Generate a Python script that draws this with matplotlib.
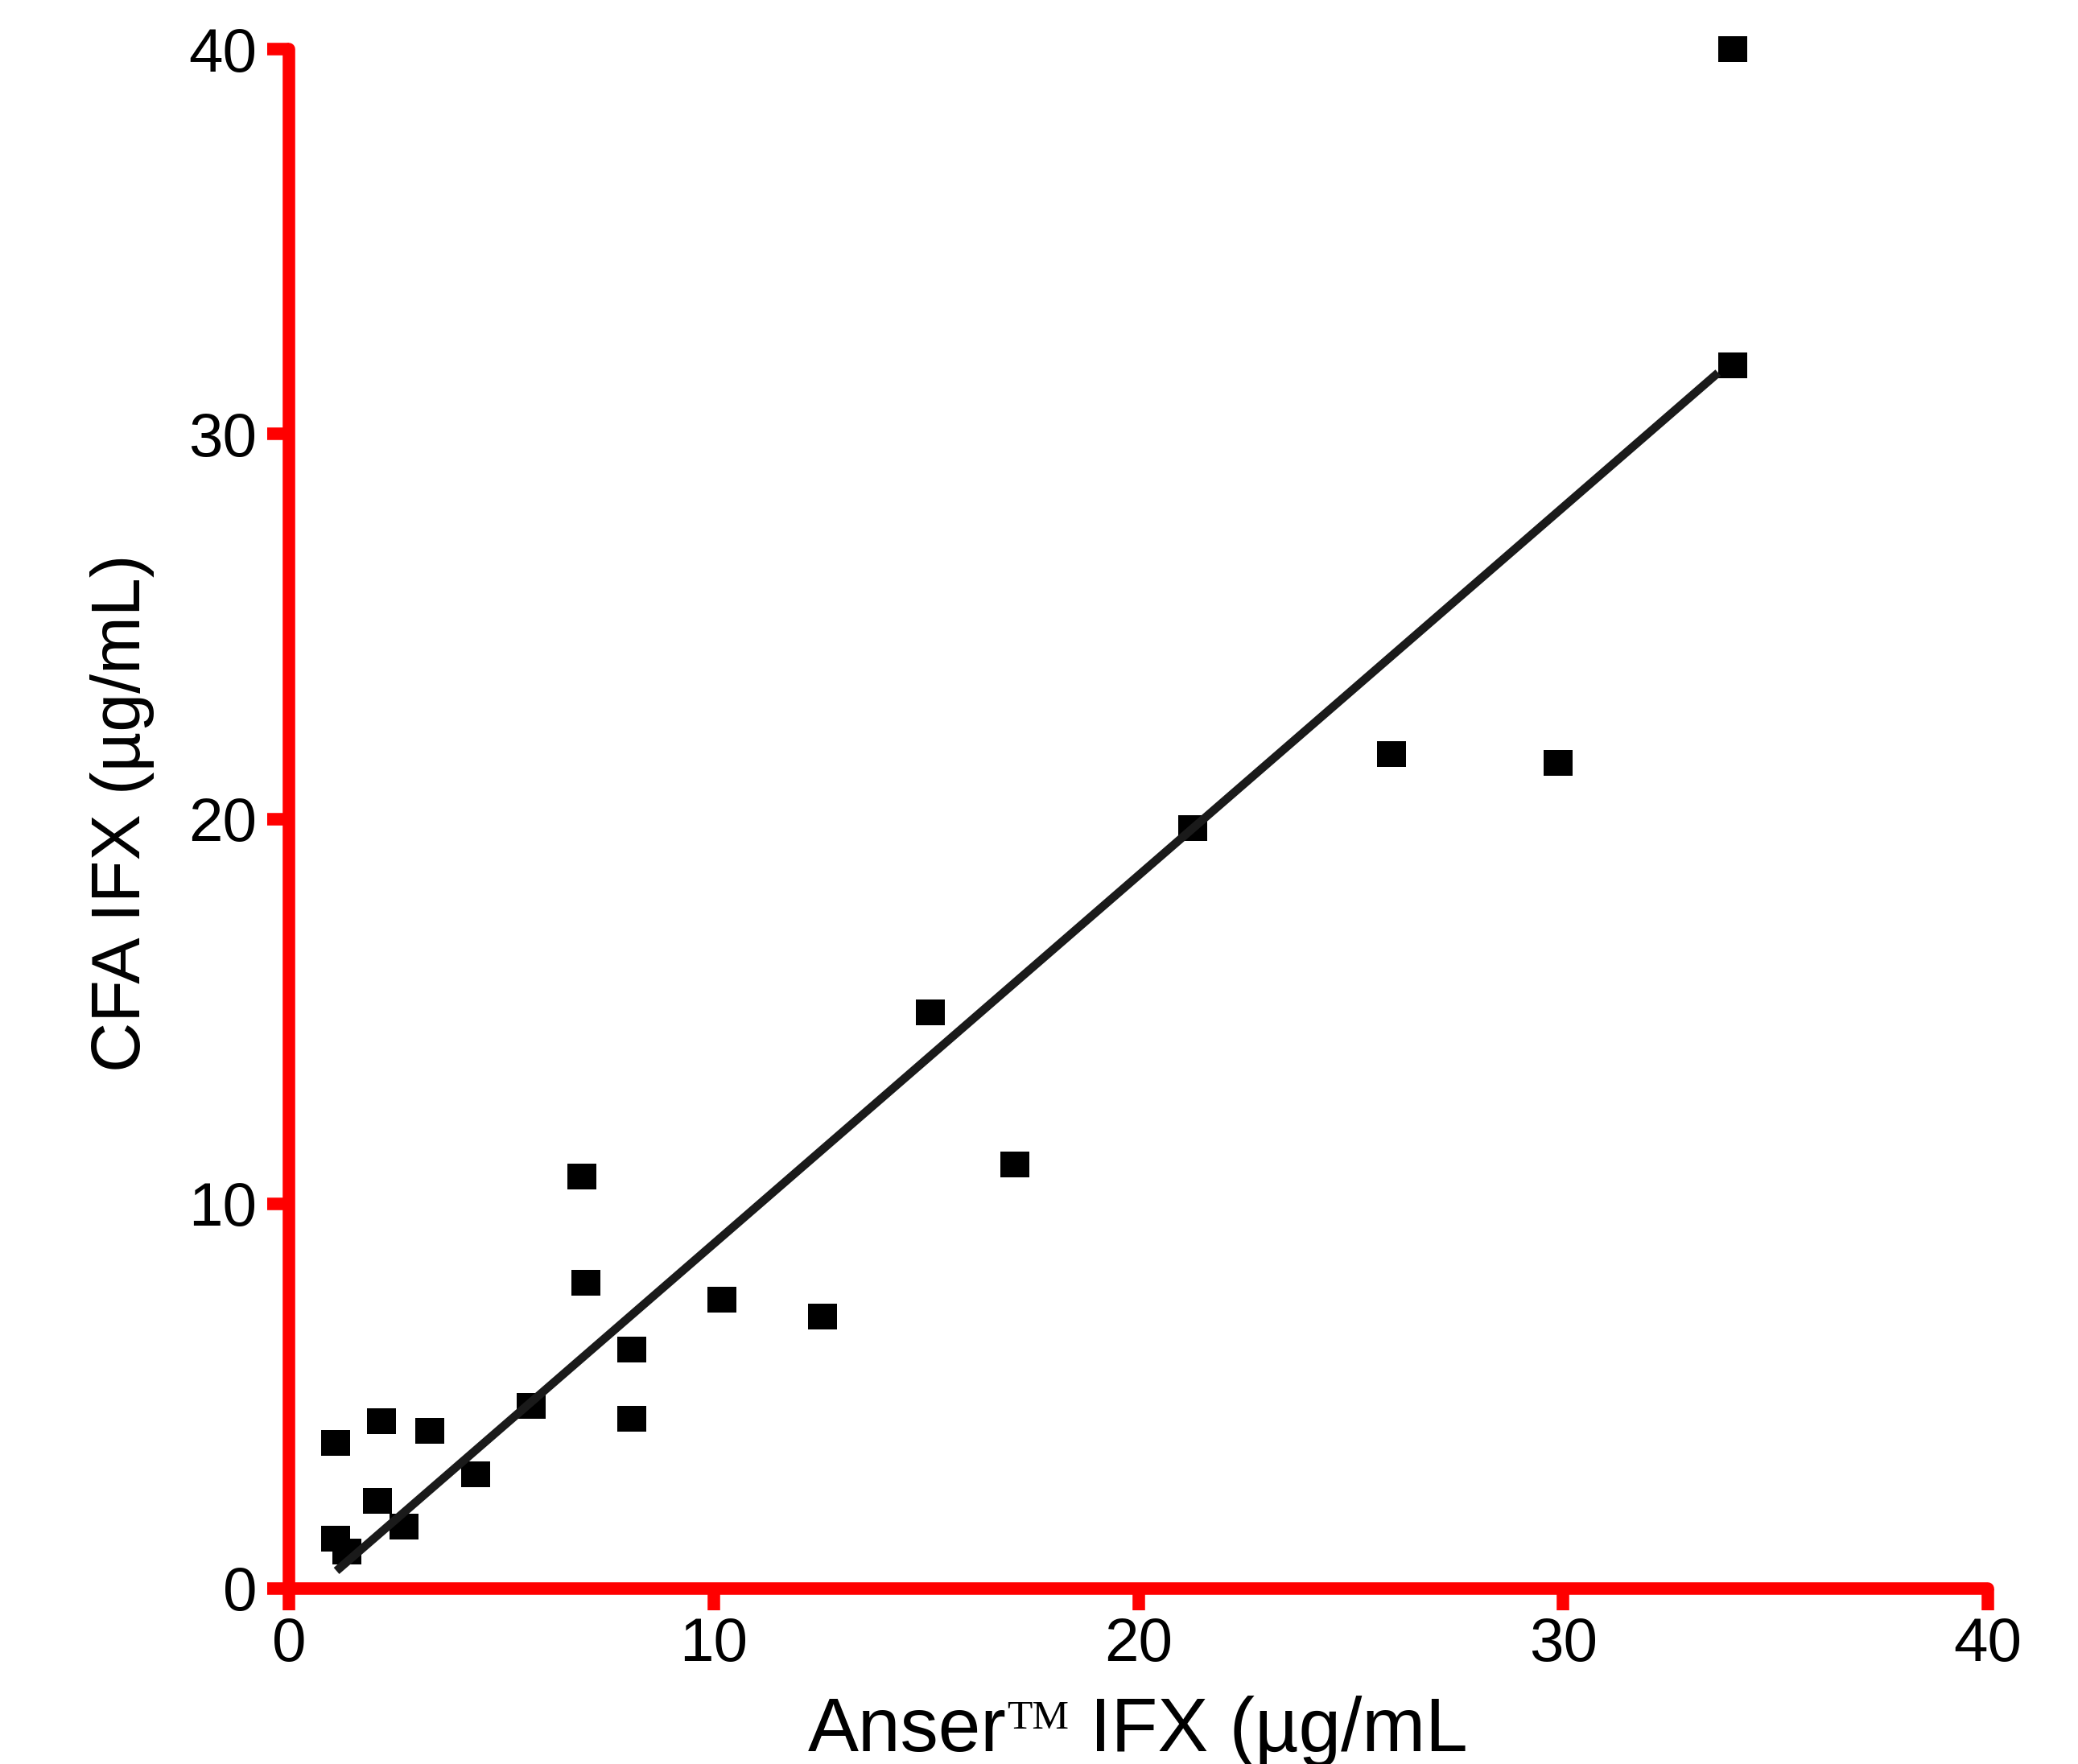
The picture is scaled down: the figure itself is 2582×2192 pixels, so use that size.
import matplotlib
matplotlib.use("Agg")
import matplotlib.pyplot as plt

# data (µg/mL)
anser_ifx = [1.09, 2.18, 3.31, 1.10, 1.36, 2.09, 2.71, 4.40, 5.71, 6.90, 6.99,
             8.08, 8.08, 10.20, 12.57, 15.10, 17.10, 21.28, 25.96, 29.89, 33.99, 33.99]
cfa_ifx = [3.79, 4.34, 4.10, 1.30, 0.96, 2.27, 1.61, 2.96, 4.75, 10.71, 7.95,
           6.20, 4.41, 7.50, 7.06, 14.97, 11.02, 19.76, 21.69, 21.45, 31.78, 40.0]

# regression line end points
fit_x = [1.12, 33.65]
fit_y = [0.46, 31.59]

ticks = [0, 10, 20, 30, 40]

plt.rcParams["font.family"] = ["Liberation Sans", "DejaVu Sans"]

W, H = 2582, 2192
fig = plt.figure(figsize=(W / 100, H / 100), dpi=100)
ax = fig.add_axes([359 / W, (H - 1974) / H, (2470 - 359) / W, (1974 - 61) / H])

red = "#ff0000"
ax.plot(fit_x, fit_y, color="#1a1a1a", lw=7.5, solid_capstyle="butt", zorder=4)
ax.plot(anser_ifx, cfa_ifx, ls="none", color="black",
        marker=[(-1, -0.89), (1, -0.89), (1, 0.89), (-1, 0.89), (-1, -0.89)],
        markersize=26, markeredgewidth=0, clip_on=False, zorder=3)

ax.set_xlim(0, 40)
ax.set_ylim(0, 40)
ax.set_xticks(ticks)
ax.set_yticks(ticks)

for side in ["top", "right"]:
    ax.spines[side].set_visible(False)
for side in ["left", "bottom"]:
    ax.spines[side].set_color(red)
    ax.spines[side].set_linewidth(11.2)
    ax.spines[side].set_capstyle("round")

ax.tick_params(direction="out", length=19.5, width=11.2, color=red, labelsize=55)
ax.tick_params(axis="x", pad=6)
ax.tick_params(axis="y", pad=9)

# y label
fig.text(152 / W, 1 - 1010 / H, "CFA IFX (µg/mL)", rotation=90,
         ha="center", va="center", fontsize=62)

# x label, built in pieces so "TM" can be set in a serif face
renderer = fig.canvas.get_renderer()
size_main = 68
size_tm = 37
parts = [("Anser", "Liberation Sans", size_main),
         ("TM", "Liberation Serif", size_tm),
         (" IFX (µg/mL", "Liberation Sans", size_main)]
widths = []
for s, fam, fs in parts:
    t = fig.text(0, 0, s, family=fam, fontsize=fs)
    widths.append(t.get_window_extent(renderer).width)
    t.remove()

base_y = (H - 2176) / H
cx = 1414
x = cx - sum(widths) / 2
for (s, fam, fs), w in zip(parts, widths):
    if s == "TM":
        fig.text(x / W, 1 - 2112 / H, s, family=fam, fontsize=fs, va="top")
    else:
        fig.text(x / W, base_y, s, family=fam, fontsize=fs, va="baseline")
    x += w

fig.savefig("out.png", dpi=100)
